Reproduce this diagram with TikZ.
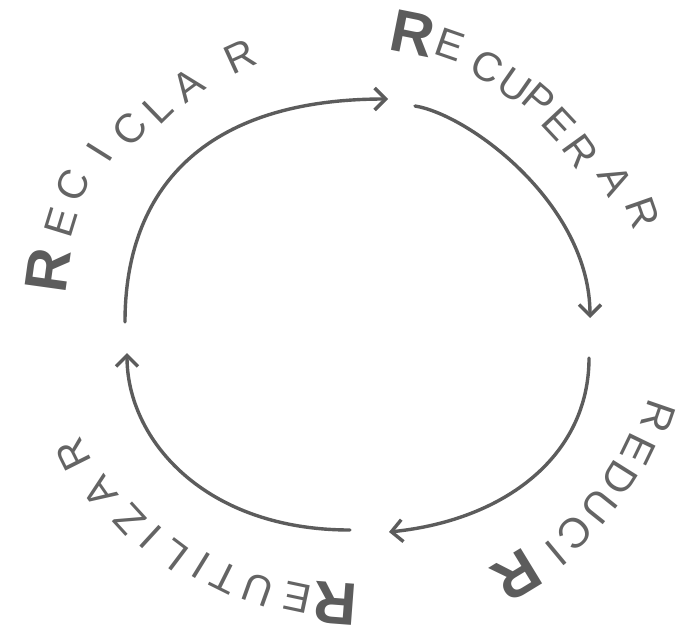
\documentclass[tikz,border=0pt]{standalone}
\usepackage{fontspec}
\setmainfont{Liberation Sans}
\usetikzlibrary{arrows.meta}
\definecolor{ink}{RGB}{92,92,92}
\definecolor{txt}{RGB}{100,100,100}
\begin{document}
\begin{tikzpicture}[x=1pt,y=-1pt,
  cyc/.style={draw=ink, line width=3.4pt, line cap=round, line join=round,
    -{Straight Barb[length=11pt,width=22pt]}},
  smL/.style={text=txt, font=\fontsize{41}{41}\selectfont, inner sep=0pt},
  smT/.style={text=txt, font=\fontsize{42}{42}\selectfont, inner sep=0pt},
  bigR/.style={text=ink, font=\fontsize{60}{60}\selectfont\bfseries, inner sep=0pt}]
\useasboundingbox (0,0) rectangle (684,640);
\fill[white] (0,0) rectangle (684,640);
% arc end points
\coordinate (a1s) at (125,322);
\coordinate (a1e) at (388,99);
\coordinate (a2s) at (415,106);
\coordinate (a2e) at (590,318);
\coordinate (a3s) at (589,358);
\coordinate (a3e) at (389,532);
\coordinate (a4s) at (350,530);
\coordinate (a4e) at (127,353);
\draw[cyc] (a1s) .. controls (125,190) and (203,99) .. (a1e);
\draw[cyc] (a2s) .. controls (470,115) and (590,205) .. (a2e);
\draw[cyc] (a3s) .. controls (589,455) and (506,520) .. (a3e);
\draw[cyc] (a4s) .. controls (205,530) and (127,440) .. (a4e);
% letters, tops pointing outward, reading clockwise
\foreach \px/\py/\t/\s [count=\i] in {
  48/270/R/bigR, 61/222/E/smL, 73/185/C/smL, 100/152/I/smL, 130/129/C/smL,
  158/108/L/smL, 188/85/A/smL, 240/57/R/smL,
  413/34/R/bigR, 450/45/E/smL, 487/67/C/smL, 515/86/U/smL, 539/100/P/smL,
  559/124/E/smL, 581/151/R/smL, 615/180/A/smL, 643/213/R/smL,
  658/417/R/smT, 638/449/E/smT, 620/478/D/smT, 599/506/U/smT, 575/532/C/smT,
  556/553/I/smT, 517/575/R/bigR,
  335/603/R/bigR, 297/597/E/smL, 258/590/U/smL, 225/578/T/smL, 201/566/I/smL,
  174/555/L/smL, 151/537/I/smL, 130/520/Z/smL, 100/492/A/smL, 73/455/R/smL}{
  \pgfmathsetmacro\ang{atan2(313-\py,\px-357)-90}
  \node[\s, rotate=\ang] (L\i) at (\px,\py) {\t};
}
\end{tikzpicture}
\end{document}
